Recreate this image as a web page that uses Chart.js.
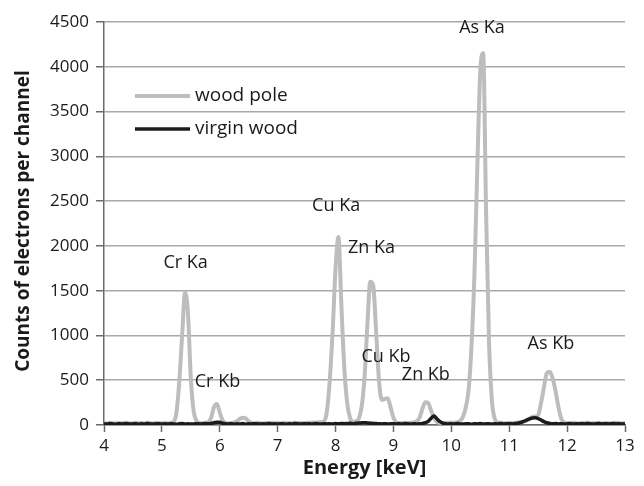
<!DOCTYPE html>
<html>
<head>
<meta charset="utf-8">
<script src="https://cdn.jsdelivr.net/npm/chart.js@4"></script>
<style>
  html, body { margin: 0; padding: 0; background: #fff; }
  #wrap { width: 644px; height: 486px; }
</style>
</head>
<body>
<div id="wrap"><canvas id="spectrumChart" width="644" height="486"></canvas></div>
<script>
// channel energies (keV)
const energy = [
  4.00,4.05,4.10,4.15,4.20,4.25,4.30,4.35,4.40,4.45,4.50,4.55,4.60,4.65,4.70,4.75,4.80,4.85,4.90,4.95,
  5.00,5.05,5.10,5.15,5.20,5.25,5.30,5.35,5.40,5.45,5.50,5.55,5.60,5.65,5.70,5.75,5.80,5.85,5.90,5.95,
  6.00,6.05,6.10,6.15,6.20,6.25,6.30,6.35,6.40,6.45,6.50,6.55,6.60,6.65,6.70,6.75,6.80,6.85,6.90,6.95,
  7.00,7.05,7.10,7.15,7.20,7.25,7.30,7.35,7.40,7.45,7.50,7.55,7.60,7.65,7.70,7.75,7.80,7.85,7.90,7.95,
  8.00,8.05,8.10,8.15,8.20,8.25,8.30,8.35,8.40,8.45,8.50,8.55,8.60,8.65,8.70,8.75,8.80,8.85,8.90,8.95,
  9.00,9.05,9.10,9.15,9.20,9.25,9.30,9.35,9.40,9.45,9.50,9.55,9.60,9.65,9.70,9.75,9.80,9.85,9.90,9.95,
  10.00,10.05,10.10,10.15,10.20,10.25,10.30,10.35,10.40,10.45,10.50,10.55,10.60,10.65,10.70,10.75,10.80,10.85,10.90,10.95,
  11.00,11.05,11.10,11.15,11.20,11.25,11.30,11.35,11.40,11.45,11.50,11.55,11.60,11.65,11.70,11.75,11.80,11.85,11.90,11.95,
  12.00,12.05,12.10,12.15,12.20,12.25,12.30,12.35,12.40,12.45,12.50,12.55,12.60,12.65,12.70,12.75,12.80,12.85,12.90,12.95,
  13.00
];

// counts per channel, wood pole
const woodPole = [
  22,18,25,20,17,23,19,24,21,18,20,26,19,22,18,24,20,17,23,21,
  19,22,20,24,35,130,480,1000,1480,1250,520,150,45,22,20,24,30,80,200,235,
  140,50,22,20,23,30,45,70,80,72,40,22,19,24,20,18,23,20,25,19,
  21,18,24,20,22,19,25,21,23,20,26,24,28,26,30,32,40,150,500,1050,
  1750,2100,1350,650,250,80,35,40,70,200,520,1120,1600,1560,1050,500,280,290,300,200,
  80,30,22,20,24,21,25,30,40,80,180,255,245,160,80,35,24,20,22,25,
  24,26,30,45,90,200,400,900,1700,2900,3950,4150,2400,950,280,70,30,25,22,20,
  24,21,25,28,32,40,50,70,90,95,110,250,420,580,595,520,380,200,70,28,
  22,19,24,20,18,23,21,25,19,22,20,24,18,21,23,19,22,25,20,21,
  20
];

// counts per channel, virgin wood
const virginWood = [
  14,10,16,12,9,15,11,13,17,10,12,15,9,14,11,16,12,10,15,13,
  11,14,10,15,12,9,13,16,11,14,10,12,15,11,13,16,14,18,25,32,
  30,20,14,11,15,10,13,12,16,9,14,11,15,12,10,14,11,16,12,13,
  10,15,12,9,14,11,16,13,10,15,12,14,11,16,13,10,15,12,14,11,
  16,13,18,14,17,20,15,19,22,24,26,23,20,18,16,14,12,15,11,13,
  15,12,14,11,16,13,10,15,12,14,18,25,40,75,100,70,40,22,15,12,
  14,11,16,12,10,15,13,9,14,12,16,11,13,15,10,14,12,16,11,13,
  14,12,16,20,28,40,55,68,78,80,72,55,38,25,18,14,16,12,15,11,
  13,16,10,14,12,15,11,17,13,10,14,16,12,15,11,13,17,12,14,10,
  13
];

// peak labels (text, energy keV, counts)
const peakNames = ['Cr Ka', 'Cr Kb', 'Cu Ka', 'Zn Ka', 'Cu Kb', 'Zn Kb', 'As Ka', 'As Kb'];
const peakEnergy = [5.41, 5.96, 8.01, 8.62, 8.87, 9.56, 10.53, 11.72];
const peakCounts = [1815, 480, 2445, 1975, 765, 555, 4430, 910];

const FONT = "'Open Sans', sans-serif";
const TEXT = '#1a1a1a';
const AXIS = '#6b6b6b';

Chart.defaults.font.family = FONT;
Chart.defaults.color = TEXT;

// legend drawn inside plot area
const innerLegend = {
    id: 'innerLegend',
    afterDatasetsDraw(chart) {
        const ctx = chart.ctx;
        const a = chart.chartArea;
        ctx.save();
        chart.data.datasets.forEach((ds, i) => {
            const y = a.top + 74 + i * 33;
            ctx.strokeStyle = ds.borderColor;
            ctx.lineWidth = ds.borderWidth;
            ctx.beginPath();
            ctx.moveTo(a.left + 31, y);
            ctx.lineTo(a.left + 86, y);
            ctx.stroke();
            ctx.fillStyle = TEXT;
            ctx.font = '19px ' + FONT;
            ctx.textBaseline = 'middle';
            ctx.textAlign = 'left';
            ctx.fillText(ds.label, a.left + 91, y);
        });
        ctx.restore();
    }
};

// peak names + y axis title
const peakLabels = {
    id: 'peakLabels',
    afterDatasetsDraw(chart) {
        const ctx = chart.ctx;
        const xs = chart.scales.x, ys = chart.scales.y;
        ctx.save();
        ctx.fillStyle = TEXT;
        ctx.font = '18px ' + FONT;
        ctx.textAlign = 'center';
        ctx.textBaseline = 'middle';
        peakNames.forEach((name, i) => {
            ctx.fillText(name, xs.getPixelForValue(peakEnergy[i]), ys.getPixelForValue(peakCounts[i]));
        });
        ctx.translate(24, 221);
        ctx.rotate(-Math.PI / 2);
        ctx.font = 'bold 19px ' + FONT;
        ctx.fillText('Counts of electrons per channel', 0, 0);
        ctx.restore();
    }
};

new Chart(document.getElementById('spectrumChart'), {
    type: 'line',
    data: {
        datasets: [{
            label: 'wood pole',
            data: energy.map((e, i) => ({ x: e, y: woodPole[i] })),
            borderColor: '#bdbdbd',
            borderWidth: 4,
            pointRadius: 0,
            cubicInterpolationMode: 'monotone',
            fill: false,
            order: 2
        }, {
            label: 'virgin wood',
            data: energy.map((e, i) => ({ x: e, y: virginWood[i] })),
            borderColor: '#1c1c1c',
            borderWidth: 3.5,
            pointRadius: 0,
            cubicInterpolationMode: 'monotone',
            fill: false,
            order: 1
        }]
    },
    options: {
        responsive: false,
        animation: false,
        layout: { padding: { top: 22, right: 19, left: 0, bottom: 0 } },
        plugins: {
            legend: { display: false },
            tooltip: { enabled: false }
        },
        scales: {
            x: {
                type: 'linear',
                min: 4,
                max: 13,
                ticks: { stepSize: 1, font: { size: 17 }, color: TEXT, padding: 4, maxRotation: 0 },
                grid: { drawOnChartArea: false, drawTicks: true, tickLength: 7, tickColor: AXIS, tickWidth: 1.5 },
                border: { color: AXIS, width: 1.5 },
                title: { display: true, text: 'Energy [keV]', font: { size: 20, weight: 'bold' }, color: TEXT, padding: { top: 0, bottom: 6 } },
                afterFit(scale) { scale.height = 61; }
            },
            y: {
                min: 0,
                max: 4500,
                ticks: {
                    stepSize: 500,
                    font: { size: 17 },
                    color: TEXT,
                    padding: 7,
                    callback: value => String(value)
                },
                grid: { color: '#a8a8a8', lineWidth: 1.5, drawTicks: true, tickLength: 8, tickColor: AXIS, tickWidth: 1.5 },
                border: { color: AXIS, width: 1.5 },
                afterFit(scale) { scale.width = 104; }
            }
        }
    },
    plugins: [innerLegend, peakLabels]
});
</script>
</body>
</html>
